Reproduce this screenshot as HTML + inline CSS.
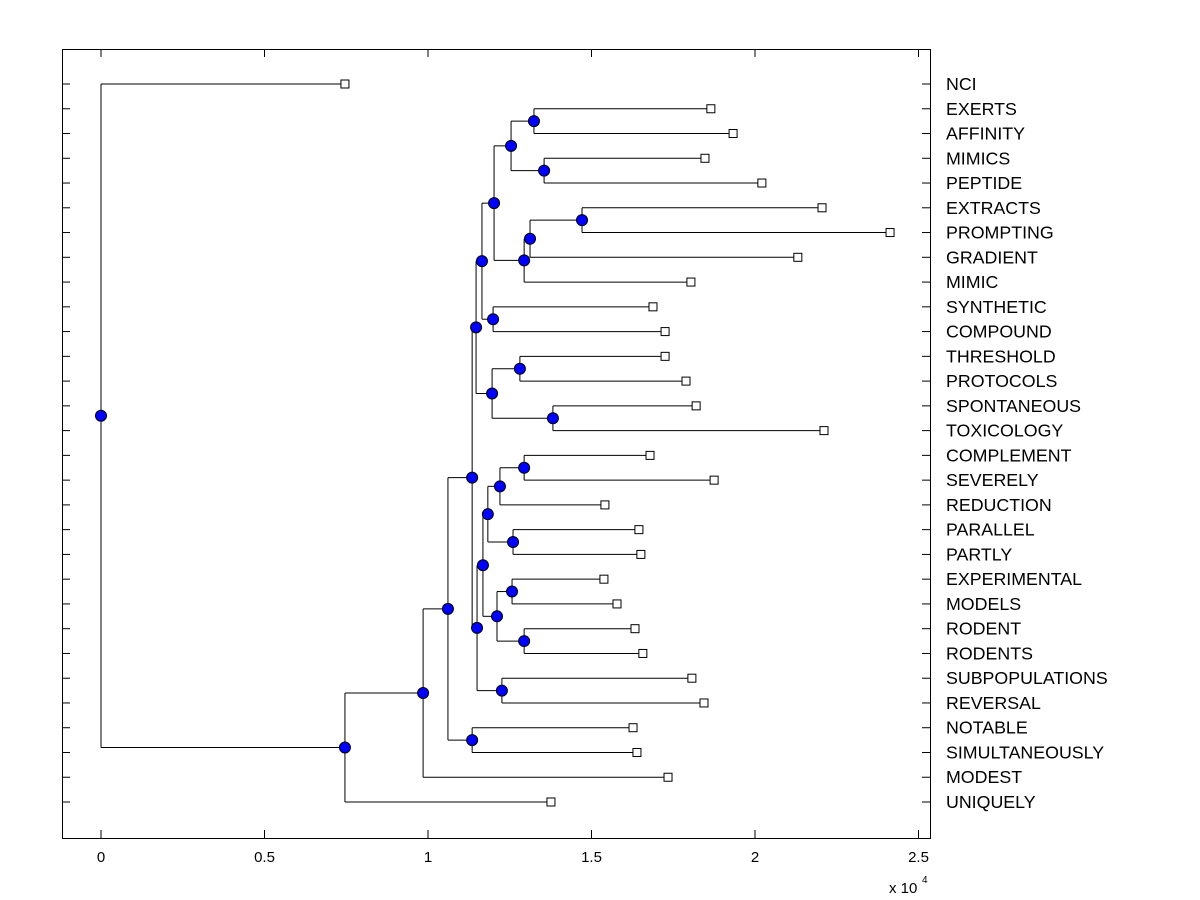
<!DOCTYPE html>
<html><head><meta charset="utf-8"><style>
body{margin:0;background:#fff;}
svg{display:block;font-family:"Liberation Sans",Arial,sans-serif;}
</style></head><body>
<svg id="chart" width="1200" height="900" viewBox="0 0 1200 900">
<rect x="62.5" y="49.5" width="868" height="789" fill="#fff" stroke="#000" stroke-width="1"/>
<g id="g"></g>
<text x="889" y="893" font-size="15">x 10</text>
<text x="922" y="883" font-size="10">4</text>
</svg>
<script>
const labels=["NCI","EXERTS","AFFINITY","MIMICS","PEPTIDE","EXTRACTS","PROMPTING","GRADIENT","MIMIC","SYNTHETIC","COMPOUND","THRESHOLD","PROTOCOLS","SPONTANEOUS","TOXICOLOGY","COMPLEMENT","SEVERELY","REDUCTION","PARALLEL","PARTLY","EXPERIMENTAL","MODELS","RODENT","RODENTS","SUBPOPULATIONS","REVERSAL","NOTABLE","SIMULTANEOUSLY","MODEST","UNIQUELY"];
const leafValues=[0.746,1.865,1.933,1.847,2.021,2.205,2.413,2.131,1.804,1.688,1.725,1.725,1.789,1.820,2.211,1.679,1.875,1.541,1.645,1.651,1.538,1.578,1.633,1.657,1.807,1.844,1.627,1.639,1.734,1.376];
const mergeLeft=[1,3,30,5,33,34,32,9,36,11,13,39,38,15,43,18,44,20,22,47,46,24,50,42,26,53,55,56,0];
const mergeRight=[2,4,31,6,7,8,35,10,37,12,14,40,41,16,17,19,45,21,23,48,49,25,51,52,27,54,28,29,57];
const mergeHeights=[1.324,1.355,1.254,1.471,1.312,1.294,1.202,1.199,1.165,1.281,1.382,1.196,1.147,1.294,1.220,1.260,1.183,1.257,1.294,1.211,1.168,1.226,1.150,1.135,1.135,1.061,0.985,0.746,0];
const xTicks=[0,0.5,1,1.5,2,2.5];
const xTickLabels=["0","0.5","1","1.5","2","2.5"];

const NS="http://www.w3.org/2000/svg",g=document.getElementById('g');
const X=v=>101+v*327, Y=i=>84+i*(802-84)/(labels.length-1);
function el(t,a){const e=document.createElementNS(NS,t);for(const k in a)e.setAttribute(k,a[k]);g.appendChild(e);return e;}
labels.forEach((l,i)=>{
 const t1=el('line',{x1:62,x2:70,y1:Y(i),y2:Y(i),stroke:'#000'});
 
 
 const t2=el('line',{x1:922,x2:930,y1:Y(i),y2:Y(i),stroke:'#000'});
 
 
 const tx=el('text',{x:946,y:Y(i)+6,'font-size':17.8});tx.textContent=l;
 
 
});
xTicks.forEach((v,i)=>{
 const a=el('line',{x1:X(v),x2:X(v),y1:830,y2:838,stroke:'#000'});
 
 
 const b=el('line',{x1:X(v),x2:X(v),y1:49,y2:57,stroke:'#000'});
 
 
 const t=el('text',{x:X(v),y:862,'font-size':15,'text-anchor':'middle'});t.textContent=xTickLabels[i];
 
 
});
const nx=leafValues.slice(), ny=labels.map((l,i)=>Y(i));
const nodes=[];
mergeHeights.forEach((h,k)=>{
 const a=mergeLeft[k],b=mergeRight[k];
 const id=labels.length+k;
 nx[id]=h; ny[id]=(ny[a]+ny[b])/2;
 [a,b].forEach(c=>{
  const hl=el('line',{x1:X(h),x2:X(nx[c]),y1:ny[c],y2:ny[c],stroke:'#000'});
  
  
 });
 const vl=el('line',{x1:X(h),x2:X(h),y1:ny[a],y2:ny[b],stroke:'#000'});
 
 
 nodes.push(id);
});
nodes.forEach(id=>{
 const c=el('circle',{cx:X(nx[id]),cy:ny[id],r:5.5,fill:'#0000ff',stroke:'#000','stroke-width':1});
 
 
});
leafValues.forEach((v,i)=>{
 const r=el('rect',{x:X(v)-4,y:Y(i)-4,width:8,height:8,fill:'#fff',stroke:'#000','stroke-width':1});
 
 
});
</script>
</body></html>
